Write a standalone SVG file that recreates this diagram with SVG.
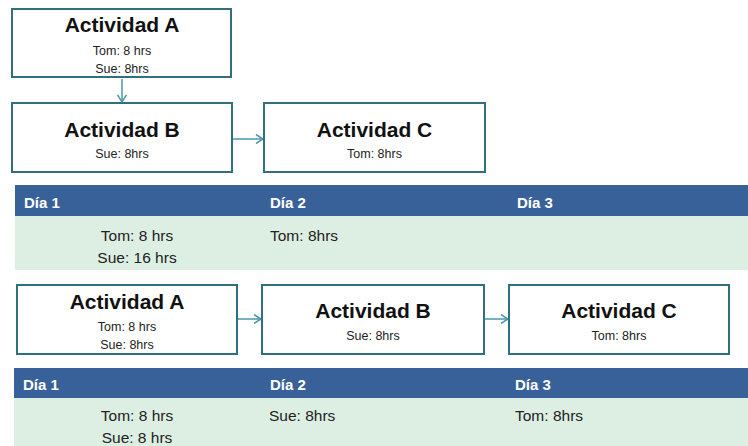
<svg xmlns="http://www.w3.org/2000/svg" width="748" height="446" viewBox="0 0 748 446">
<defs>
<style>
.box{fill:#ffffff;stroke:#2f6f7e;stroke-width:2}
.title{font-family:"Liberation Sans",Arial,sans-serif;font-weight:bold;font-size:21px;fill:#111;text-anchor:middle}
.sub{font-family:"Liberation Sans",Arial,sans-serif;font-size:12.5px;fill:#222;text-anchor:middle}
.hdr{fill:#38619a}
.body{fill:#ddeee3}
.htxt{font-family:"Liberation Sans",Arial,sans-serif;font-weight:bold;font-size:15px;fill:#ffffff}
.btxt{font-family:"Liberation Sans",Arial,sans-serif;font-size:15.5px;fill:#222}
.conn{stroke:#4a98ae;stroke-width:1.5;fill:none}
</style>
<marker id="ah" markerWidth="10" markerHeight="10" refX="9" refY="5" orient="auto" markerUnits="userSpaceOnUse">
<path d="M2,0.5 L9,5 L2,9.5" fill="none" stroke="#4a98ae" stroke-width="1.5"/>
</marker>
</defs>
<rect width="748" height="446" fill="#ffffff"/>

<g id="connectors">
<line class="conn" x1="122" y1="79" x2="122" y2="102" marker-end="url(#ah)"/>
<line class="conn" x1="233" y1="139" x2="263" y2="139" marker-end="url(#ah)"/>
<line class="conn" x1="238" y1="319" x2="261" y2="319" marker-end="url(#ah)"/>
<line class="conn" x1="485" y1="319" x2="508" y2="319" marker-end="url(#ah)"/>
</g>

<g id="node-a1">
<rect class="box" x="12" y="9" width="219" height="68"/>
<text class="title" x="122" y="32">Actividad A</text>
<text class="sub" x="122" y="55">Tom: 8 hrs</text>
<text class="sub" x="122" y="73">Sue: 8hrs</text>
</g>
<g id="node-b1">
<rect class="box" x="12" y="103" width="220" height="69"/>
<text class="title" x="122" y="137">Actividad B</text>
<text class="sub" x="122" y="158">Sue: 8hrs</text>
</g>
<g id="node-c1">
<rect class="box" x="264" y="103" width="221" height="69"/>
<text class="title" x="374.5" y="137">Actividad C</text>
<text class="sub" x="374.5" y="158">Tom: 8hrs</text>
</g>

<g id="table1">
<rect class="hdr" x="15" y="185" width="733" height="31"/>
<rect class="body" x="15" y="216" width="733" height="54"/>
<text class="htxt" x="24" y="208">Día 1</text>
<text class="htxt" x="270" y="208">Día 2</text>
<text class="htxt" x="517" y="208">Día 3</text>
<text class="btxt" x="137" y="241" text-anchor="middle">Tom: 8 hrs</text>
<text class="btxt" x="137" y="263" text-anchor="middle">Sue: 16 hrs</text>
<text class="btxt" x="270" y="241">Tom: 8hrs</text>
</g>

<g id="node-a2">
<rect class="box" x="17" y="285" width="220" height="69"/>
<text class="title" x="127" y="309">Actividad A</text>
<text class="sub" x="127" y="331">Tom: 8 hrs</text>
<text class="sub" x="127" y="349">Sue: 8hrs</text>
</g>
<g id="node-b2">
<rect class="box" x="262" y="285" width="222" height="69"/>
<text class="title" x="373" y="318">Actividad B</text>
<text class="sub" x="373" y="340">Sue: 8hrs</text>
</g>
<g id="node-c2">
<rect class="box" x="509" y="285" width="220" height="69"/>
<text class="title" x="619" y="318">Actividad C</text>
<text class="sub" x="619" y="340">Tom: 8hrs</text>
</g>

<g id="table2">
<rect class="hdr" x="14" y="368" width="734" height="30"/>
<rect class="body" x="14" y="398" width="734" height="48"/>
<text class="htxt" x="23" y="390">Día 1</text>
<text class="htxt" x="270" y="390">Día 2</text>
<text class="htxt" x="515" y="390">Día 3</text>
<text class="btxt" x="137" y="421" text-anchor="middle">Tom: 8 hrs</text>
<text class="btxt" x="137" y="443" text-anchor="middle">Sue: 8 hrs</text>
<text class="btxt" x="269" y="421">Sue: 8hrs</text>
<text class="btxt" x="515" y="421">Tom: 8hrs</text>
</g>
</svg>
